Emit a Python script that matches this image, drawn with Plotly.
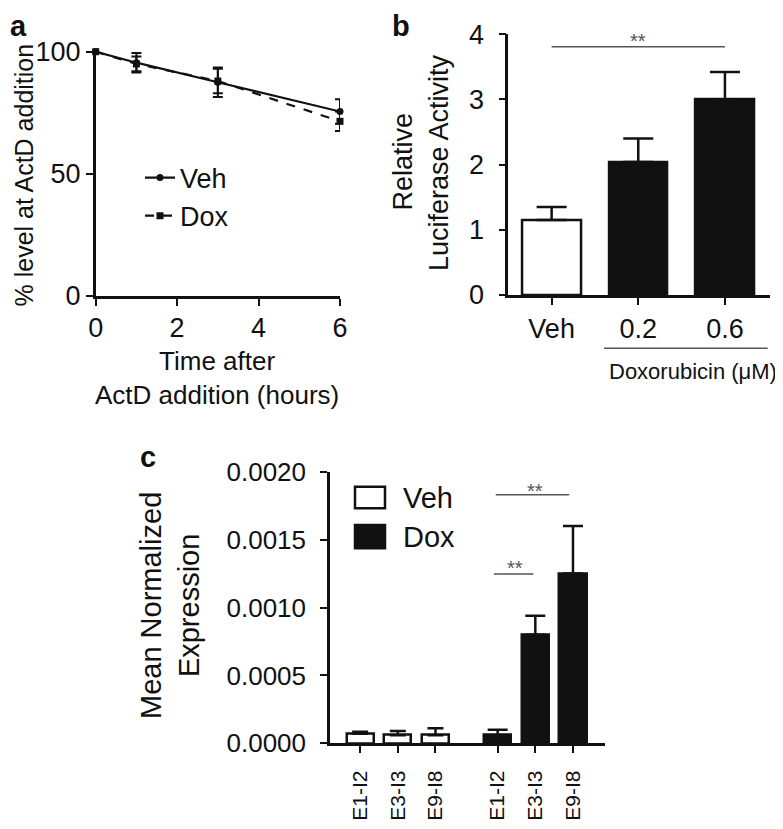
import plotly.graph_objects as go

# ---------------- data ----------------
# Panel a: mRNA decay after ActD
time_h = [0, 1, 3, 6]
veh_pct = [100, 95.5, 87.5, 75.5]
veh_err = [0, 4, 6, 5]
dox_pct = [100, 95, 88, 71.5]
dox_err = [0, 3, 5, 4]

# Panel b: luciferase activity
b_categories = ["Veh", "0.2", "0.6"]
b_values = [1.15, 2.04, 3.0]
b_errors = [0.20, 0.36, 0.42]

# Panel c: mean normalized expression
c_labels = ["E1-I2", "E3-I3", "E9-I8"]
c_veh = [0.00007, 0.00006, 0.00006]
c_veh_err = [0.000015, 0.00003, 0.00005]
c_dox = [0.00006, 0.0008, 0.00125]
c_dox_err = [0.00004, 0.00014, 0.00035]

# ---------------- layout helpers ----------------
W, H = 783, 829
OFF = 8  # page offset of the plot div (default body margin)
FONT = "Liberation Sans, Arial, Helvetica, sans-serif"
BLACK = "#111111"
GREY = "#555555"


def px(x):
    return (x - OFF) / W


def py(y):
    return 1 - (y - OFF) / H


fig = go.Figure()

# ---- panel a ----
fig.add_trace(go.Scatter(
    x=time_h, y=veh_pct, name="Veh", mode="lines+markers",
    line=dict(color=BLACK, width=2.2),
    marker=dict(symbol="circle", size=7, color=BLACK),
    error_y=dict(type="data", array=veh_err, color=BLACK, thickness=2, width=5),
    cliponaxis=False, xaxis="x", yaxis="y", legend="legend",
))
fig.add_trace(go.Scatter(
    x=time_h, y=dox_pct, name="Dox", mode="lines+markers",
    line=dict(color=BLACK, width=2.2, dash="dash"),
    marker=dict(symbol="square", size=7, color=BLACK),
    error_y=dict(type="data", array=dox_err, color=BLACK, thickness=2, width=5),
    cliponaxis=False, xaxis="x", yaxis="y", legend="legend",
))

# ---- panel b ----
fig.add_trace(go.Bar(
    x=b_categories, y=b_values, width=0.675,
    marker=dict(color=["white", BLACK, BLACK], line=dict(color=BLACK, width=2.5)),
    error_y=dict(type="data", array=b_errors, arrayminus=[0] * len(b_errors),
                 symmetric=False, color=BLACK, thickness=2.5, width=15),
    showlegend=False, xaxis="x2", yaxis="y2", cliponaxis=False,
))

# ---- panel c ----
GROUP_GAP = 0.65
veh_pos = [i for i in range(len(c_labels))]
dox_pos = [len(c_labels) + GROUP_GAP + i for i in range(len(c_labels))]

fig.add_trace(go.Bar(
    x=veh_pos, y=c_veh, width=0.72, name="Veh",
    marker=dict(color="white", line=dict(color=BLACK, width=2.5)),
    error_y=dict(type="data", array=c_veh_err, arrayminus=[0] * 3, symmetric=False,
                 color=BLACK, thickness=2.5, width=8),
    showlegend=False, xaxis="x3", yaxis="y3", cliponaxis=False,
))
fig.add_trace(go.Bar(
    x=dox_pos, y=c_dox, width=0.72, name="Dox",
    marker=dict(color=BLACK, line=dict(color=BLACK, width=2.5)),
    error_y=dict(type="data", array=c_dox_err, arrayminus=[0] * 3, symmetric=False,
                 color=BLACK, thickness=2.5, width=10),
    showlegend=False, xaxis="x3", yaxis="y3", cliponaxis=False,
))

axis_common = dict(
    showline=True, linecolor=BLACK, linewidth=2.5, ticks="outside", ticklen=7,
    tickwidth=2.2, tickcolor=BLACK, showgrid=False, zeroline=False, automargin=False,
    tickfont=dict(family=FONT, size=27, color=BLACK),
)

fig.update_layout(
    width=W, height=H, margin=dict(l=0, r=0, t=0, b=0, pad=0, autoexpand=False),
    paper_bgcolor="white", plot_bgcolor="white",
    font=dict(family=FONT, color=BLACK),
    bargap=0,
    xaxis=dict(domain=[px(95.7), px(340)], range=[0, 6], tickvals=[0, 2, 4, 6],
               anchor="y", ticklabelstandoff=-1, **axis_common),
    yaxis=dict(domain=[py(296), py(51.7)], range=[0, 100], tickvals=[0, 50, 100],
               anchor="x", ticklabelstandoff=0, **axis_common),
    xaxis2=dict(domain=[px(508.3), px(770)], range=[-0.5, 2.52], type="category",
                anchor="y2", ticklabelstandoff=1, **axis_common),
    yaxis2=dict(domain=[py(295), py(34.3)], range=[0, 4], dtick=1,
                anchor="x2", ticklabelstandoff=9, **axis_common),
    xaxis3=dict(domain=[px(330), px(605)], range=[-0.8, 6.5],
                tickvals=veh_pos + dox_pos, ticktext=c_labels + c_labels,
                tickangle=-90, anchor="y3", ticklabelstandoff=9,
                **{**axis_common, "tickfont": dict(family=FONT, size=21, color=BLACK)}),
    yaxis3=dict(domain=[py(743.3), py(471.7)], range=[0, 0.002],
                tickvals=[0, 0.0005, 0.001, 0.0015, 0.002], tickformat=".4f",
                anchor="x3", ticklabelstandoff=9,
                **{**axis_common, "tickfont": dict(family=FONT, size=26, color=BLACK)}),
    legend=dict(x=px(140), y=py(153.5), xanchor="left", yanchor="top",
                bgcolor="rgba(0,0,0,0)", font=dict(family=FONT, size=27, color=BLACK),
                tracegroupgap=0, itemwidth=30),
)

ann = []


def text(x, y, s, size=27, angle=0, bold=False, xanchor="center", yanchor="middle", color=BLACK):
    ann.append(dict(x=px(x), y=py(y), xref="paper", yref="paper", text=("<b>%s</b>" % s) if bold else s,
                    showarrow=False, textangle=angle, xanchor=xanchor, yanchor=yanchor,
                    borderpad=0, font=dict(family=FONT, size=size, color=color)))


# panel letters (kept just inside the visible page edge)
text(9, 8.5, "a", size=29, bold=True, xanchor="left", yanchor="top")
text(391, 8.5, "b", size=29, bold=True, xanchor="left", yanchor="top")
text(139, 440, "c", size=29, bold=True, xanchor="left", yanchor="top")

# panel a titles
text(217, 378, "Time after<br>ActD addition (hours)", size=26)
text(8.5, 175, "% level at ActD addition", size=25, angle=-90, xanchor="left")

# panel b titles
text(402.5, 162, "Relative", angle=-90)
text(439, 162, "Luciferase Activity", angle=-90)
text(778, 372, "Doxorubicin (\u03bcM)", size=22, xanchor="right")

# panel c titles
text(170, 606, "Mean Normalized<br>Expression", size=29, angle=-90)

# panel c legend text
text(401.7, 498.3, "Veh", size=29, xanchor="left")
text(401.7, 536.7, "Dox", size=29, xanchor="left")

# significance stars
ann.append(dict(x=1, y=3.90, xref="x2", yref="y2", text="**", showarrow=False,
                font=dict(family=FONT, size=20, color=GREY), yanchor="middle"))
ann.append(dict(x=(dox_pos[0] + dox_pos[1]) / 2 - 0.05, y=0.00129, xref="x3", yref="y3", text="**",
                showarrow=False, font=dict(family=FONT, size=20, color=GREY), yanchor="middle"))
ann.append(dict(x=(dox_pos[0] + dox_pos[2]) / 2, y=0.00186, xref="x3", yref="y3", text="**",
                showarrow=False, font=dict(family=FONT, size=20, color=GREY), yanchor="middle"))

fig.update_layout(annotations=ann)

shapes = [
    # panel b significance bar
    dict(type="line", xref="x2", yref="y2", x0=0, x1=2, y0=3.81, y1=3.81,
         line=dict(color=GREY, width=1.5)),
    # doxorubicin group line
    dict(type="line", xref="paper", yref="paper", x0=px(604), x1=px(767.7), y0=py(348.3), y1=py(348.3),
         line=dict(color=GREY, width=1.5)),
    # panel c significance bars
    dict(type="line", xref="x3", yref="y3", x0=dox_pos[0] - 0.1, x1=dox_pos[1] - 0.05,
         y0=0.001247, y1=0.001247, line=dict(color=GREY, width=1.5)),
    dict(type="line", xref="x3", yref="y3", x0=dox_pos[0] - 0.05, x1=dox_pos[2] - 0.1,
         y0=0.00183, y1=0.00183, line=dict(color=GREY, width=1.5)),
    # panel c legend boxes
    dict(type="rect", xref="paper", yref="paper", x0=px(355), x1=px(385), y0=py(508.3), y1=py(486.7),
         fillcolor="white", line=dict(color=BLACK, width=2.5)),
    dict(type="rect", xref="paper", yref="paper", x0=px(355), x1=px(385), y0=py(548.3), y1=py(525),
         fillcolor=BLACK, line=dict(color=BLACK, width=2.5)),
]
fig.update_layout(shapes=shapes)

fig.write_html("out.html")
